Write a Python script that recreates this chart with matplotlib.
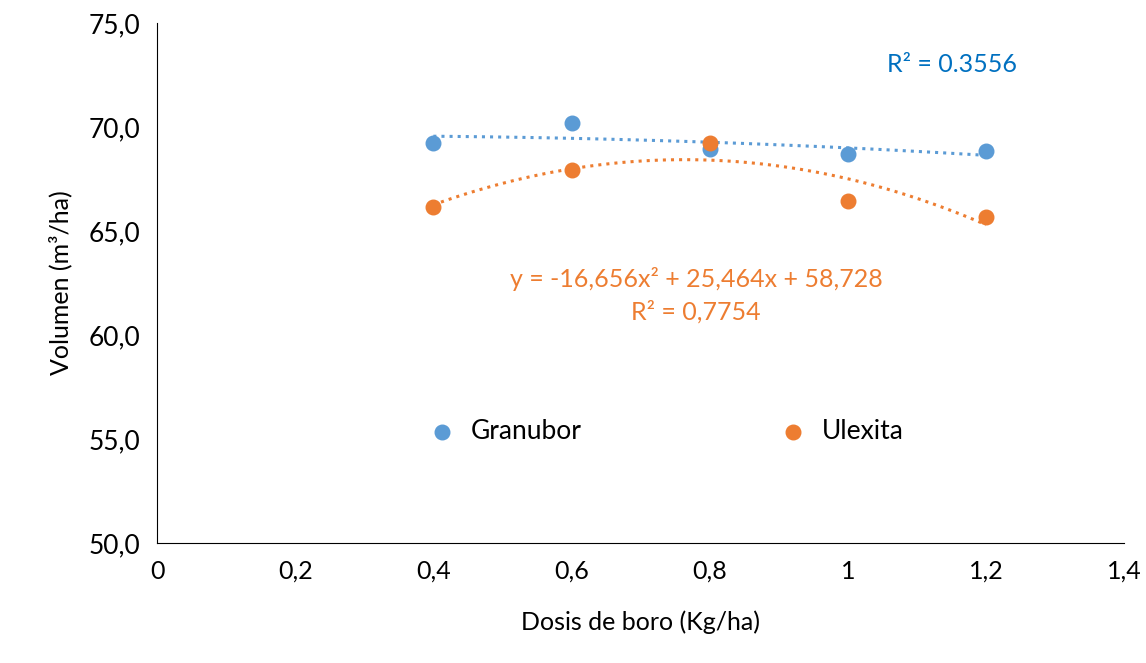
import numpy as np
import matplotlib
matplotlib.use('Agg')
import matplotlib.pyplot as plt

plt.rcParams['font.family'] = ['Lato', 'DejaVu Sans']

dosis = [0.4, 0.6, 0.8, 1.0, 1.2]
granubor = [69.25, 70.2, 68.95, 68.7, 68.85]
ulexita = [66.15, 67.95, 69.25, 66.45, 65.7]

blue = '#5B9BD5'
orange = '#ED7D31'

fig = plt.figure(figsize=(11.46, 6.63), dpi=100)
ax = fig.add_axes([0.137, 0.181, 0.844, 0.784])

ax.scatter(dosis, granubor, color=blue, s=110, zorder=3, label='Granubor')
ax.scatter(dosis, ulexita, color=orange, s=110, zorder=3, label='Ulexita')

xs = np.linspace(0.4, 1.2, 100)
pg = np.polyfit(dosis, granubor, 2)
pu = np.polyfit(dosis, ulexita, 2)
ax.plot(xs, np.polyval(pg, xs), color=blue, ls=':', lw=2.2)
ax.plot(xs, np.polyval(pu, xs), color=orange, ls=':', lw=2.2)

ax.set_xlim(0, 1.4)
ax.set_ylim(50, 75)
ax.set_xticks([0, 0.2, 0.4, 0.6, 0.8, 1.0, 1.2, 1.4])
ax.set_xticklabels(['0', '0,2', '0,4', '0,6', '0,8', '1', '1,2', '1,4'], fontsize=18)
ax.set_yticks([50, 55, 60, 65, 70, 75])
ax.set_yticklabels(['50,0', '55,0', '60,0', '65,0', '70,0', '75,0'], fontsize=19)
ax.tick_params(length=0, pad=12)
for s in ['top', 'right']:
    ax.spines[s].set_visible(False)
ax.spines['left'].set_color('black')
ax.spines['bottom'].set_color('black')

ax.set_xlabel('Dosis de boro (Kg/ha)', fontsize=18, labelpad=20)
ax.set_ylabel('Volumen (m³/ha)', fontsize=18, labelpad=12)

ax.text(1.15, 73.0, 'R² = 0.3556', color='#0070C0', fontsize=18, ha='center', va='center')
ax.text(0.78, 62.7, 'y = -16,656x² + 25,464x + 58,728', color=orange, fontsize=18, ha='center', va='center')
ax.text(0.78, 61.1, 'R² = 0,7754', color=orange, fontsize=18, ha='center', va='center')

ax.legend(loc='center', bbox_to_anchor=(0.52, 0.215), ncol=2, frameon=False,
          fontsize=19, columnspacing=7, handletextpad=0.1, markerscale=1.0)

fig.savefig('out.png', dpi=100)
